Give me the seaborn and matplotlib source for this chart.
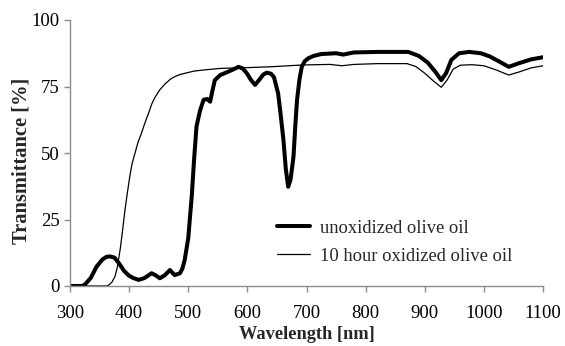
import matplotlib
matplotlib.use("Agg")
import matplotlib.pyplot as plt
import seaborn as sns
import pandas as pd

wl_unox = [300, 320, 325, 335, 345, 355, 362, 368, 375, 383, 391, 399, 407, 416, 426, 438, 445, 452, 460, 469, 477, 486, 490, 494, 500, 506, 510, 514, 520, 526, 532, 537, 541, 545, 554, 568, 577, 585, 592, 599, 606, 613, 620, 627, 633, 640, 645, 652, 656, 661, 665, 669, 673, 678, 681, 684, 688, 692, 697, 703, 712, 725, 750, 762, 780, 820, 850, 872, 890, 905, 918, 928, 936, 945, 958, 975, 995, 1010, 1025, 1042, 1060, 1080, 1100]
t_unox = [0, 0, 0.5, 3, 7.3, 10, 11, 11.1, 10.7, 8.5, 5.8, 4, 3, 2.3, 3, 4.8, 4, 2.9, 4, 6, 4.1, 4.8, 6.5, 9.8, 18, 34, 48, 60, 66, 70, 70.3, 69.3, 73.5, 77.4, 79.3, 80.6, 81.5, 82.4, 81.8, 80, 77.5, 75.6, 77.5, 79.5, 80.2, 79.8, 78.5, 72.4, 65, 54.9, 44, 37.3, 40, 48.6, 60, 70, 77.5, 82.4, 84.5, 85.6, 86.5, 87.2, 87.5, 87, 87.8, 88, 88, 88, 86.5, 84, 80.5, 77.4, 80, 85, 87.5, 88, 87.5, 86.3, 84.5, 82.4, 83.8, 85.2, 86]

wl_ox = [300, 362, 366, 371, 376, 380, 385, 389, 393, 397, 401, 405, 410, 415, 421, 427, 433, 438, 444, 452, 461, 470, 478, 486, 495, 510, 530, 554, 600, 638, 694, 740, 760, 780, 820, 870, 885, 900, 915, 928, 938, 948, 960, 980, 1000, 1020, 1042, 1060, 1080, 1100]
t_ox = [0, 0, 0.4, 1.5, 3.5, 7, 14, 21, 28.6, 35, 41, 46, 50, 54, 57.5, 61.5, 65, 68.3, 71, 73.8, 76, 77.8, 78.8, 79.5, 80, 80.8, 81.3, 81.8, 82.1, 82.4, 83.1, 83.3, 82.8, 83.3, 83.6, 83.6, 82.5, 80, 77, 74.7, 77.5, 81.5, 83, 83.2, 82.8, 81.3, 79.3, 80.5, 82, 82.8]

x_ticks = [300, 400, 500, 600, 700, 800, 900, 1000, 1100]
y_ticks = [0, 25, 50, 75, 100]

df = pd.concat([
    pd.DataFrame({"wl": wl_unox, "T": t_unox, "series": "unoxidized olive oil"}),
    pd.DataFrame({"wl": wl_ox, "T": t_ox, "series": "10 hour oxidized olive oil"}),
])

sns.set_style("ticks")
plt.rcParams["font.family"] = ["Liberation Serif", "DejaVu Serif"]

fig = plt.figure(figsize=(5.65, 3.46), dpi=100)
ax = fig.add_axes([70/565, 1-286/346, (543-70)/565, (286-20)/346])

sns.lineplot(data=df, x="wl", y="T", hue="series", size="series",
             sizes={"unoxidized olive oil": 2.9, "10 hour oxidized olive oil": 0.9},
             palette={"unoxidized olive oil": "black", "10 hour oxidized olive oil": "black"},
             sort=False, estimator=None, ax=ax)

ax.set_xlim(300, 1100)
ax.set_ylim(0, 100)
ax.set_xticks(x_ticks)
ax.set_yticks(y_ticks)
for s in ["top", "right"]:
    ax.spines[s].set_visible(False)
for s in ["left", "bottom"]:
    ax.spines[s].set_color("#8c8c8c")
    ax.spines[s].set_linewidth(1.0)
ax.tick_params(axis="both", colors="#8c8c8c", labelcolor="black", labelsize=13.5, length=4, width=1.0, direction="out")
ax.tick_params(axis="x", pad=10)
ax.set_xlabel("Wavelength [nm]", fontsize=13.2, fontweight="bold")
ax.set_ylabel("Transmittance [%]", fontsize=14.8, fontweight="bold")
ax.xaxis.set_label_coords(0.5, -0.152)
ax.yaxis.set_label_coords(-0.082, 0.47)

handles, labels = ax.get_legend_handles_labels()
leg = ax.legend(handles=handles, labels=labels, frameon=False, fontsize=13.3,
                loc="center left", bbox_to_anchor=(0.422, 0.165), handlelength=1.8,
                handletextpad=0.55, labelspacing=0.6, borderaxespad=0)

fig.savefig("out.png", dpi=100)
